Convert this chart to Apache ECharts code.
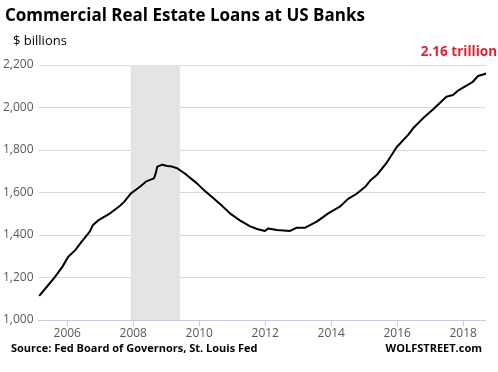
<!DOCTYPE html>
<html><head><meta charset="utf-8">
<script src="https://cdn.jsdelivr.net/npm/echarts@6/dist/echarts.min.js"></script>
<style>html,body{margin:0;padding:0;background:#fff}#c{width:498px;height:372px}</style>
</head><body><div id="c"></div>
<script>
const years = [2005.15,2005.40,2005.63,2005.85,2006.03,2006.25,2006.43,2006.60,2006.68,2006.78,2006.95,2007.13,2007.30,2007.43,2007.60,2007.73,2007.93,2008.10,2008.23,2008.38,2008.55,2008.63,2008.68,2008.73,2008.88,2009.03,2009.18,2009.33,2009.60,2009.93,2010.15,2010.43,2010.70,2010.93,2011.23,2011.53,2011.75,2011.99,2012.09,2012.35,2012.75,2012.95,2013.20,2013.56,2013.91,2014.26,2014.51,2014.76,2015.03,2015.18,2015.38,2015.68,2015.98,2016.33,2016.48,2016.78,2017.09,2017.49,2017.69,2017.84,2018.29,2018.45,2018.65,2018.69];
const loans = [1114,1160,1203,1250,1298,1330,1368,1400,1416,1447,1470,1486,1502,1518,1538,1557,1596,1615,1631,1651,1662,1667,1690,1722,1731,1725,1722,1714,1685,1643,1610,1573,1536,1502,1469,1442,1428,1419,1431,1424,1419,1434,1434,1463,1502,1533,1570,1593,1627,1656,1682,1740,1813,1871,1902,1949,1992,2051,2059,2079,2121,2148,2158,2160];
const recession = [2007.92, 2009.42];
const xTicks = [2006,2008,2010,2012,2014,2016,2018];
const yTicks = [1000,1200,1400,1600,1800,2000,2200];
const title = 'Commercial Real Estate Loans at US Banks';
const unit = '$ billions';
const note = '2.16 trillion';
const source = 'Source: Fed Board of Governors, St. Louis Fed';
const brand = 'WOLFSTREET.com';

const chart = echarts.init(document.getElementById('c'), null, {renderer:'canvas'});
const F = 'Open Sans';
chart.setOption({
  animation:false,
  grid:{left:37,right:12,top:65,bottom:52},
  xAxis:{type:'value',min:2005.13,max:2018.69,
    axisLine:{lineStyle:{color:'#c3cde0',width:1}},
    axisTick:{show:true,customValues:xTicks,length:6,lineStyle:{color:'#c3cde0'}},
    axisLabel:{customValues:xTicks,color:'#595959',fontFamily:F,fontSize:12,margin:8,formatter:v=>String(Math.round(v))},
    splitLine:{show:false}},
  yAxis:{type:'value',min:1000,max:2200,interval:200,
    axisLine:{show:false},axisTick:{show:false},
    axisLabel:{color:'#595959',fontFamily:F,fontSize:12,margin:5,formatter:v=>v.toLocaleString('en-US')},
    splitLine:{lineStyle:{color:'#d9d9d9'}}},
  series:[{type:'line',data:years.map((y,i)=>[y,loans[i]]),showSymbol:false,
    lineStyle:{color:'#000',width:2},
    markArea:{silent:true,itemStyle:{color:'#e4e4e4'},data:[[{xAxis:recession[0]},{xAxis:recession[1]}]]},
    z:3}],
  graphic:[
    {type:'text',left:5,top:8,style:{text:title,font:'bold 17px "Open Sans"',fill:'#000'}},
    {type:'text',left:13,top:35,style:{text:unit,font:'13px "Open Sans"',fill:'#000'}},
    {type:'text',right:1,top:45,style:{text:note,font:'bold 13.5px "Open Sans"',fill:'#e8202f'}},
    {type:'text',left:11,top:343,style:{text:source,font:'bold 11px "Open Sans"',fill:'#000'}},
    {type:'text',right:16,top:343,style:{text:brand,font:'bold 11px "Open Sans"',fill:'#000'}}
  ]
});
</script></body></html>
